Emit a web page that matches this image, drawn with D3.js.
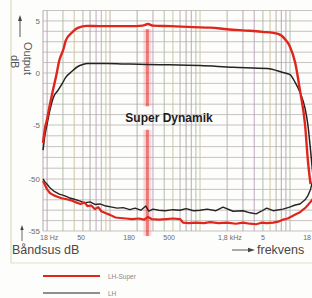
<!DOCTYPE html>
<html>
<head>
<meta charset="utf-8">
<script src="https://cdn.jsdelivr.net/npm/d3@7"></script>
<style>
  html, body { margin: 0; padding: 0; background: #fdfdfb; }
  svg { display: block; font-family: "Liberation Sans", Arial, sans-serif; }
</style>
</head>
<body>
<div id="chart"></div>
<script>
// ---- data ----
// output level (dB) vs frequency (Hz)
const superOutFreq = [18, 18.9, 19.9, 21.5, 23.2, 25.2, 27.3, 30.4, 32.2, 37.6, 43.9, 55.6, 75, 99, 166, 230, 264, 300, 470, 835, 1300, 2000, 3590, 5000, 7360, 8900, 9900, 11400, 12900, 14700, 15800, 16900]
const superOut     = [-20, -8, -4.5, -3.0, -1.67, -0.3, 1.19, 2.3, 3.1, 3.86, 4.33, 4.52, 4.5, 4.5, 4.5, 4.55, 4.7, 4.55, 4.5, 4.4, 4.35, 4.2, 4.05, 3.95, 3.75, 3.2, 2.6, 1.0, -1.67, -5, -34.7, -50.5]

const lhOutFreq = [18, 18.9, 19.9, 21.5, 23.6, 26.4, 29.5, 32.2, 37.6, 43.9, 49.9, 55.6, 93, 166, 358, 1000, 2330, 5570, 8350, 9900, 11400, 12900, 14700, 15800, 16900, 18000]
const lhOut     = [-26, -13.5, -5, -3.57, -2.3, -1.67, -1.0, -0.43, 0.14, 0.62, 0.81, 0.9, 0.9, 0.85, 0.8, 0.71, 0.55, 0.43, 0.05, -0.14, -0.9, -1.86, -3.4, -5, -26, -47.5]

// band noise (dB) vs frequency (Hz)
const superNoiseFreq = [18, 19, 20, 21.5, 23.5, 26, 29, 33, 37, 42, 47, 52, 56, 62, 68, 74, 80, 90, 100, 115, 130, 150, 175, 210, 240, 264, 290, 350, 420, 500, 600, 650, 750, 900, 1100, 1300, 1600, 2000, 2500, 3000, 3600, 4200, 4800, 5500, 6500, 7400, 8400, 9400, 10400, 11600, 12900, 13700, 14700, 15800, 16900, 18000]
const superNoise     = [-50.2, -50.6, -51.0, -51.35, -51.55, -51.7, -51.85, -51.95, -52.05, -52.25, -52.4, -52.25, -52.6, -52.55, -52.9, -52.7, -53.1, -53.3, -53.45, -53.7, -53.75, -53.8, -53.85, -53.8, -53.9, -53.65, -53.85, -53.9, -53.85, -53.8, -53.85, -54.2, -54.25, -54.2, -54.25, -54.15, -54.25, -54.2, -54.3, -54.2, -54.3, -54.35, -54.2, -54.25, -54.2, -54.1, -53.9, -53.8, -53.6, -53.4, -53.2, -53.0, -52.8, -52.5, -52.2, -51.9]

const lhNoiseFreq = [18, 19, 20, 21.5, 24, 27.3, 31, 35, 40, 46, 52, 60, 68, 77, 90, 105, 120, 140, 166, 190, 220, 250, 270, 300, 350, 409, 500, 600, 700, 850, 1000, 1200, 1500, 1800, 2330, 3000, 3600, 4200, 4800, 5500, 6500, 8350, 9900, 11400, 12900, 14700, 15800, 16900, 18000]
const lhNoise     = [-50.0, -50.3, -50.5, -50.85, -51.2, -51.45, -51.6, -51.8, -51.95, -52.1, -52.3, -52.2, -52.45, -52.4, -52.6, -52.7, -52.8, -52.75, -52.95, -52.8, -53.0, -52.6, -53.1, -52.9, -53.0, -53.05, -52.95, -53.0, -52.85, -53.05, -53.0, -52.9, -53.05, -52.7, -53.1, -53.05, -53.25, -53.35, -53.1, -52.8, -53.05, -52.9, -52.7, -52.5, -52.4, -52.0, -51.6, -51.0, -50.0]

// axes
const yTickValues = [5, 0, -5, -50, -55]
const yGridValues = [6, 5, 4, 3, 2, 1, 0, -1, -2, -3, -4, -5, -14, -23, -32, -41, -50, -51, -52, -53, -54, -55]
const xTickValues = [18, 50, 180, 500, 1800, 5000, 18000]
const xTickLabels = ['18 Hz', '50', '180', '500', '1,8 kHz', '5', '18']
const xGridValues = [18, 20, 30, 40, 50, 60, 70, 80, 90, 100, 200, 300, 400, 500, 600, 700, 800, 900, 1000, 2000, 3000, 4000, 5000, 6000, 7000, 8000, 9000, 10000, 18000]
const markerFreq = 260

const seriesNames = ['LH-Super', 'LH']
const seriesColors = ['#e0261c', '#262222']

// ---- layout ----
const width = 312, height = 298

const svg = d3.select('#chart').append('svg')
  .attr('width', width)
  .attr('height', height)

const x = d3.scaleLog().domain([18, 18000]).range([43, 313])
// broken axis: -5..-50 squeezed into one band
const y = d3.scaleLinear().domain([-55, -50, -5, 6]).range([231, 179, 125, 10.5])

// outer frame
svg.append('line').attr('x1', 11).attr('x2', 11).attr('y1', 0).attr('y2', 263)
  .attr('stroke', '#d9d3b4').attr('stroke-width', 1)
svg.append('line').attr('x1', 11).attr('x2', width).attr('y1', 263).attr('y2', 263)
  .attr('stroke', '#e4e0cc').attr('stroke-width', 1)

// grid
const gridColors = ['#a9a0a6', '#b59fb8', '#a7b9a1', '#cabf96', '#b2aaa8']
const grid = svg.append('g')
grid.selectAll('.hgrid').data(yGridValues).enter().append('line')
  .attr('class', 'hgrid')
  .attr('x1', x(18)).attr('x2', width)
  .attr('y1', d => y(d)).attr('y2', d => y(d))
  .attr('stroke', '#b9b4b2').attr('stroke-width', 0.8)
grid.selectAll('.vgrid').data(xGridValues).enter().append('line')
  .attr('class', 'vgrid')
  .attr('x1', d => x(d)).attr('x2', d => x(d))
  .attr('y1', y(6)).attr('y2', y(-55))
  .attr('stroke', (d, i) => gridColors[i % gridColors.length])
  .attr('stroke-width', 0.9)

// red marker band, broken behind the label
const band = svg.append('g')
;[[y(4.2), y(-3.2)], [y(-9), y(-55) + 5]].forEach(seg => {
  band.append('rect')
    .attr('x', x(markerFreq) - 4).attr('width', 8)
    .attr('y', seg[0]).attr('height', seg[1] - seg[0])
    .attr('fill', 'rgba(240,110,110,0.25)')
  band.append('rect')
    .attr('x', x(markerFreq) - 1.5).attr('width', 3)
    .attr('y', seg[0]).attr('height', seg[1] - seg[0])
    .attr('fill', 'rgba(225,40,40,0.55)')
})

// curves
const line = d3.line().x(d => x(d[0])).y(d => y(d[1]))
const smooth = d3.line().x(d => x(d[0])).y(d => y(d[1])).curve(d3.curveMonotoneX)

const curves = [
  { pts: d3.zip(lhNoiseFreq, lhNoise), color: seriesColors[1], w: 1.4, gen: line },
  { pts: d3.zip(superNoiseFreq, superNoise), color: seriesColors[0], w: 2.2, gen: line },
  { pts: d3.zip(lhOutFreq, lhOut), color: seriesColors[1], w: 1.5, gen: smooth },
  { pts: d3.zip(superOutFreq, superOut), color: seriesColors[0], w: 2.4, gen: smooth }
]
svg.append('g').selectAll('path').data(curves).enter().append('path')
  .attr('d', d => d.gen(d.pts))
  .attr('fill', 'none')
  .attr('stroke', d => d.color)
  .attr('stroke-width', d => d.w)
  .attr('stroke-linejoin', 'round')

// y tick labels
svg.append('g').selectAll('text').data(yTickValues).enter().append('text')
  .attr('x', 40).attr('y', d => y(d) + 3)
  .attr('text-anchor', 'end')
  .attr('font-size', 8).attr('fill', '#6e6a6a')
  .text(d => d)

// x tick labels (last one pulled inside the edge)
svg.append('g').selectAll('text').data(xTickValues).enter().append('text')
  .attr('x', (d, i) => {
    if (i === 0) return x(d) - 3
    if (xTickLabels[i].indexOf('Hz') > -1) return x(d) - 5
    return Math.min(x(d) + 2, width - 1)
  })
  .attr('y', 240)
  .attr('text-anchor', (d, i) => xTickLabels[i].indexOf('Hz') > -1 ? 'start' : 'end')
  .attr('font-size', 7).attr('fill', '#6e6a6a')
  .attr('font-family', '"Liberation Sans Narrow", "Liberation Sans", sans-serif')
  .text((d, i) => xTickLabels[i])

// y axis title with arrow
svg.append('line').attr('x1', 20).attr('x2', 20).attr('y1', 19).attr('y2', 37)
  .attr('stroke', '#444').attr('stroke-width', 0.9)
svg.append('path').attr('d', 'M20,15 L18,21 L22,21 Z').attr('fill', '#444')
svg.append('text')
  .attr('transform', 'translate(24,42) rotate(90)')
  .attr('font-size', 11).attr('fill', '#555')
  .text('Output')
svg.append('text')
  .attr('transform', 'translate(11,55) rotate(90)')
  .attr('font-size', 11).attr('fill', '#555')
  .text('dB')

// small up arrow by the noise scale
svg.append('line').attr('x1', 22).attr('x2', 22).attr('y1', 228).attr('y2', 241)
  .attr('stroke', '#444').attr('stroke-width', 0.8)
svg.append('path').attr('d', 'M22,225 L20.3,230 L23.7,230 Z').attr('fill', '#444')

// bottom titles
svg.append('text').attr('x', 12).attr('y', 254)
  .attr('font-size', 12.5).attr('fill', '#4a4646')
  .text('Båndsus  dB')
svg.append('line').attr('x1', 232).attr('x2', 250).attr('y1', 250).attr('y2', 250)
  .attr('stroke', '#444').attr('stroke-width', 0.9)
svg.append('path').attr('d', 'M255,250 L248,247.8 L248,252.2 Z').attr('fill', '#444')
svg.append('text').attr('x', 257).attr('y', 254)
  .attr('font-size', 12.5).attr('fill', '#4a4646')
  .text('frekvens')

// label in the plot
svg.append('text').attr('x', 169).attr('y', 122)
  .attr('text-anchor', 'middle')
  .attr('font-size', 12).attr('font-weight', 'bold').attr('fill', '#1e1c1c')
  .text('Super Dynamik')

// legend
const legend = svg.append('g')
legend.selectAll('line').data(seriesNames).enter().append('line')
  .attr('x1', 43).attr('x2', 100)
  .attr('y1', (d, i) => 276 + i * 17).attr('y2', (d, i) => 276 + i * 17)
  .attr('stroke', (d, i) => seriesColors[i])
  .attr('stroke-width', (d, i) => i === 0 ? 2 : 1.2)
legend.selectAll('text').data(seriesNames).enter().append('text')
  .attr('x', 108).attr('y', (d, i) => 278.5 + i * 17)
  .attr('font-size', 6.5).attr('fill', '#8a8585')
  .text(d => d)
</script>
</body>
</html>
